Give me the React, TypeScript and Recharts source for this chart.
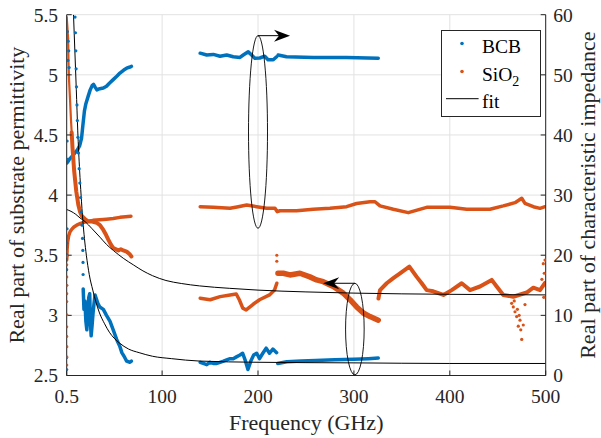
import React from 'react';
import {
  ComposedChart,
  Line,
  Scatter,
  XAxis,
  YAxis,
  CartesianGrid,
  Legend,
  ReferenceDot,
} from 'recharts';

const FONT = 'Liberation Serif, Tinos, Times New Roman, Times, Nimbus Roman, FreeSerif, Noto Serif, DejaVu Serif, serif';
const BLUE = '#0072BD';
const ORANGE = '#D95319';
const AXIS = '#262626';

// ---- ticks ----
const freqTicks = [0.5, 100, 200, 300, 400, 500];
const epsTicks = [2.5, 3, 3.5, 4, 4.5, 5, 5.5];
const zTicks = [0, 10, 20, 30, 40, 50, 60];

// ---- BCB: permittivity (left axis), [GHz, value] ----
const bcbEpsSteep = [[9.2,5.48],[9.6,5.35],[10.0,5.2],[10.3,5.05],[10.7,4.9],[11.2,4.75],[11.6,4.62],[12.2,4.48],[12.8,4.35],[13.5,4.22],[14.2,4.1],[15.0,3.98],[15.8,3.86],[16.5,3.75],[17.0,3.64],[17.3,3.54],[17.5,3.44],[17.6,3.34]];
const bcbEpsLowScatter = [[1.2,5.36],[2.0,5.28],[2.6,5.2],[1.8,5.12],[3.0,5.06],[0.9,4.45],[0.6,4.3],[0.8,3.72],[0.6,3.6],[0.7,3.5],[0.5,3.38],[0.5,2.65],[0.5,2.55]];
const bcbEpsA = [[17.7,3.22],[18.5,3.05],[19.5,3.12],[20.5,2.95],[21.5,2.88],[22.5,3.02],[23.5,3.15],[24.5,3.18],[25.2,2.95],[26,2.83],[27,2.92],[28,3.02],[29,3.1],[30,3.17],[33,3.1],[35,3.07],[38.7,3.05],[42,3.0],[45.7,2.95],[49,2.88],[52.6,2.8],[56,2.74],[58,2.69],[61,2.65],[63,2.62],[66.5,2.61],[68,2.62]];
const bcbEpsB = [[139.7,2.61],[143,2.6],[146.5,2.59],[150,2.61],[153.4,2.6],[157,2.6],[160.4,2.61],[164,2.62],[167.3,2.63],[170.9,2.64],[174.2,2.64],[177.5,2.655],[181.2,2.67],[184,2.685],[186.5,2.63],[189.5,2.55],[192.5,2.62],[195.5,2.67],[198.6,2.685],[201.6,2.64],[205,2.685],[208.5,2.727],[212,2.685],[215.5,2.72],[219.4,2.69]];
const bcbEpsC = [[220.5,2.6],[230,2.615],[245,2.62],[260,2.625],[280,2.63],[300,2.635],[315,2.64],[325.4,2.645]];

// ---- BCB: impedance (right axis) ----
const bcbZA = [[0.5,35.3],[2,35.6],[4,36.1],[6,36.4],[8,36.8],[10,37.2],[12,37.6],[14,38.2],[16,39.5],[17.5,41.8],[19,44],[20.5,45.2],[23,46.5],[25,47.5],[27,48.2],[28.5,48.4],[30,48.0],[32,47.5],[35,47.7],[38.7,47.8],[42,48.1],[45,48.6],[49,49.2],[53,49.8],[56,50.3],[60,50.8],[63,51.1],[66.5,51.3],[68,51.4]];
const bcbZB = [[139.7,53.6],[146.5,53.3],[153.4,53.4],[160.4,53.1],[167.3,53.3],[174.2,53.0],[181.2,52.9],[184.6,53.3],[189.8,53.85],[193.3,53.3],[196.7,52.75],[201.9,52.8],[207,53.1],[210.5,52.5],[215.9,52.5],[219.4,53.0]];
const bcbZC = [[221,53.3],[229.7,53.0],[257.5,52.9],[292.3,52.9],[325.4,52.75]];

// ---- SiO2: permittivity (left axis) ----
const sioEpsTop = [[0.5,5.48],[1.2,5.4],[2,5.3],[2.4,5.1],[3,4.95],[4,4.79],[5,4.62],[5.7,4.52]];
const sioEpsA = [[5.7,4.52],[6.5,4.4],[7.4,4.3],[8.3,4.2],[9.2,4.13],[10.5,4.03],[12.6,3.92],[14.5,3.86],[16,3.83],[19.6,3.8],[23,3.78],[27,3.78],[31.8,3.77],[35.2,3.75],[38.7,3.71],[41.5,3.67],[43.9,3.63],[46.5,3.59],[49.1,3.56],[54.3,3.54],[57,3.55],[59.5,3.54],[63,3.53],[66,3.51],[68,3.49]];
const sioEpsB = [[139.7,3.143],[150.1,3.13],[160.5,3.156],[170.9,3.17],[177.3,3.178],[180.5,3.13],[184.1,3.06],[187.7,3.045],[194.6,3.09],[201.6,3.13],[212,3.17],[217.2,3.21],[219.6,3.267]];
const sioEpsOutliers = [[219.6,3.5],[219.6,3.45]];
const sioEpsC = [[220.8,3.35],[226.3,3.35],[233.3,3.336],[243.7,3.35],[254.1,3.32],[261.1,3.295],[268,3.28],[278.5,3.24],[288.9,3.185],[295.9,3.13],[302.9,3.07],[309.8,3.02],[316.8,2.99],[325.4,2.96]];
const sioEpsD = [[325.6,3.14],[327.2,3.21],[334.2,3.267],[341.1,3.31],[348.1,3.35],[357.8,3.405],[365.5,3.32],[370.7,3.267],[375.9,3.21],[382.8,3.2],[393.3,3.17],[402,3.21],[412.4,3.267],[421.1,3.21],[431.5,3.24],[443.7,3.295],[448.9,3.24],[455.8,3.17],[466.2,3.155],[480.2,3.19],[487.1,3.23],[494.1,3.21],[499.3,3.27]];
const sioEpsDScatter = [[464.5,3.1],[466.2,3.07],[467.2,3.12],[468,3.03],[469.7,2.99],[470.5,3.05],[471.4,2.91],[472.3,3.0],[473.2,2.96],[474,2.88],[475,2.8],[476.6,2.92],[478.4,3.09],[497.5,3.43],[498.5,3.35],[499.3,3.46],[498,3.15],[496,3.3]];

// ---- SiO2: impedance (right axis) ----
const sioZA = [[0.5,19.2],[0.9,21],[1.5,22.2],[2.5,23.2],[4,23.9],[5.7,24.3],[8,24.7],[10.9,25.0],[15,25.3],[21,25.6],[28,25.8],[35,25.9],[42,26.0],[49,26.1],[56,26.3],[62,26.4],[67.5,26.5]];
const sioZLowScatter = [[0.5,20.6],[0.6,19.8],[0.5,18.4],[0.5,16.4],[0.6,15.0],[0.5,13.6],[0.5,12.3],[0.6,10.1],[0.5,8.1],[0.5,6.5],[0.6,4.8],[0.5,3.1],[0.5,1.75]];
const sioZB = [[139.7,28.07],[153.4,27.97],[170.8,27.8],[179.4,28.07],[188.2,28.35],[198.6,28.07],[209,27.8],[217.7,27.8],[220.1,27.25],[222.9,27.4],[240.3,27.4],[257.6,27.64],[275,27.8],[292.4,28.07],[302.8,28.6],[316.8,28.9],[322,28.9],[327.2,28.2],[341.1,27.64],[356.7,27.08],[375.9,27.97],[400.2,27.97],[417.6,27.64],[441.9,27.64],[455.8,28.2],[468,28.74],[475,29.47],[478.4,28.63],[487.1,28.07],[494.1,27.8],[499.3,28.07]];

// ---- fits (left axis) ----
const sioFit = [[0.5,3.88],[5,3.865],[10,3.84],[14.4,3.81],[19.6,3.78],[27,3.72],[35.2,3.65],[42,3.59],[49.1,3.54],[59.5,3.475],[70,3.42],[80,3.37],[90,3.33],[104,3.29],[120,3.265],[139,3.245],[170,3.225],[200,3.21],[250,3.195],[300,3.185],[400,3.175],[500,3.17]];
const bcbFit = [[7.6,5.5],[9,5.2],[10.5,4.88],[12,4.54],[14,4.2],[15.5,4.0],[17.3,3.79],[19,3.64],[21,3.5],[24,3.34],[27.7,3.21],[31,3.11],[34.7,3.02],[40,2.93],[45,2.86],[50,2.81],[55.5,2.77],[65,2.72],[76,2.69],[90,2.66],[110,2.64],[139,2.62],[200,2.61],[300,2.605],[400,2.6],[500,2.6]];

// ---- annotation anchors [GHz, permittivity] ----
const ellipseRight = [200, 4.525];
const ellipseLeft = [301, 2.886];

type P = { f: number; v: number };
const pts = (a: number[][]): P[] => a.map(([f, v]) => ({ f, v }));

const dotShape = (color: string) => (p: any) => (
  <circle cx={p.cx} cy={p.cy} r={1.6} fill={color} />
);

const EllipseArrowRight = (p: any) => {
  const { cx, cy } = p;
  const ry = 96.3;
  const top = cy - ry;
  const tip = cx + 32;
  return (
    <g>
      <ellipse cx={cx} cy={cy} rx={9.5} ry={ry} fill="none" stroke="#000" strokeWidth={0.9} />
      <line x1={cx} y1={top} x2={tip - 8} y2={top} stroke="#000" strokeWidth={1} />
      <path d={`M${tip},${top} L${tip - 16},${top - 6} L${tip - 11},${top} L${tip - 16},${top + 6} Z`} fill="#000" />
    </g>
  );
};

const EllipseArrowLeft = (p: any) => {
  const { cx, cy } = p;
  const ry = 45.8;
  const top = cy - ry;
  const tip = cx - 31.7;
  return (
    <g>
      <ellipse cx={cx} cy={cy} rx={9.3} ry={ry} fill="none" stroke="#000" strokeWidth={0.9} />
      <line x1={cx} y1={top} x2={tip + 8} y2={top} stroke="#000" strokeWidth={1} />
      <path d={`M${tip},${top} L${tip + 16},${top - 6} L${tip + 11},${top} L${tip + 16},${top + 6} Z`} fill="#000" />
    </g>
  );
};

const renderLegend = () => (
  <svg width={100} height={87} style={{ display: 'block' }}>
    <rect x={0.5} y={0.5} width={99} height={86} fill="#fff" stroke={AXIS} strokeWidth={1} />
    <circle cx={21} cy={13.5} r={1.8} fill={BLUE} />
    <text x={41} y={23} fontFamily={FONT} fontSize={19.5} fill="#000">BCB</text>
    <circle cx={21} cy={41.5} r={1.8} fill={ORANGE} />
    <text x={41} y={50.5} fontFamily={FONT} fontSize={19.5} fill="#000">
      SiO<tspan dy={5} fontSize={14}>2</tspan>
    </text>
    <line x1={5} y1={68.7} x2={37.6} y2={68.7} stroke="#000" strokeWidth={1} />
    <text x={41} y={77.5} fontFamily={FONT} fontSize={19.5} fill="#000">fit</text>
  </svg>
);

const tickStyle = { fontFamily: FONT, fontSize: 19.5, fill: AXIS };
const labelStyle = { fontFamily: FONT, fontSize: 22, fill: AXIS, textAnchor: 'middle' as const };

export default function App() {
  const band = (data: number[][], color: string, axis: string, w = 4, key = '') => (
    <Line
      key={key}
      data={pts(data)}
      dataKey="v"
      yAxisId={axis}
      type="linear"
      stroke={color}
      strokeWidth={w}
      strokeLinejoin="round"
      strokeLinecap="round"
      dot={false}
      activeDot={false}
      isAnimationActive={false}
      legendType="none"
    />
  );
  const dots = (data: number[][], color: string, axis: string, key = '') => (
    <Scatter
      key={key}
      data={pts(data)}
      dataKey="v"
      yAxisId={axis}
      fill={color}
      shape={dotShape(color)}
      isAnimationActive={false}
      legendType="none"
    />
  );

  return (
    <div style={{ position: 'absolute', left: 0, top: 0, width: 601, height: 438, background: '#fff', fontFamily: FONT }}>
      <ComposedChart width={601} height={438} margin={{ top: 14.7, right: 0, bottom: 0, left: 0 }}>
        <CartesianGrid yAxisId="left" stroke="#e2e2e2" strokeWidth={1} />
        <XAxis
          type="number"
          dataKey="f"
          domain={[0.5, 500]}
          ticks={freqTicks}
          interval={0}
          allowDataOverflow
          height={62.5}
          tickSize={-5}
          tickMargin={19}
          tick={tickStyle}
          stroke={AXIS}
          axisLine={{ stroke: AXIS }}
          tickLine={{ stroke: AXIS }}
          label={{ value: 'Frequency (GHz)', position: 'insideBottom', offset: 8.5, style: labelStyle }}
        />
        <XAxis
          xAxisId="top"
          orientation="top"
          type="number"
          dataKey="f"
          domain={[0.5, 500]}
          ticks={freqTicks}
          interval={0}
          allowDataOverflow
          height={0}
          tickSize={-5}
          tick={false}
          axisLine={{ stroke: AXIS }}
          tickLine={{ stroke: AXIS }}
        />
        <YAxis
          yAxisId="left"
          type="number"
          domain={[2.5, 5.5]}
          ticks={epsTicks}
          interval={0}
          allowDataOverflow
          width={66.7}
          tickSize={-5}
          tickMargin={13.7}
          tick={tickStyle}
          axisLine={{ stroke: AXIS }}
          tickLine={{ stroke: AXIS }}
          label={{ value: 'Real part of substrate permittivity', angle: -90, position: 'insideLeft', offset: 16.2, style: labelStyle }}
        />
        <YAxis
          yAxisId="right"
          orientation="right"
          type="number"
          domain={[0, 60]}
          ticks={zTicks}
          interval={0}
          allowDataOverflow
          width={55.3}
          tickSize={-5}
          tickMargin={12.6}
          tick={tickStyle}
          axisLine={{ stroke: AXIS }}
          tickLine={{ stroke: AXIS }}
          label={{ value: 'Real part of characteristic impedance', angle: -90, position: 'insideRight', offset: 13.5, style: labelStyle }}
        />

        {band(bcbZA, BLUE, 'right', 3.5, 'bzA')}
        {band(bcbZB, BLUE, 'right', 3.5, 'bzB')}
        {band(bcbZC, BLUE, 'right', 3.5, 'bzC')}
        {band(bcbEpsA, BLUE, 'left', 3.5, 'beA')}
        {band(bcbEpsB, BLUE, 'left', 3.5, 'beB')}
        {band(bcbEpsC, BLUE, 'left', 3.5, 'beC')}
        {dots(bcbEpsSteep, BLUE, 'left', 'beS')}
        {dots(bcbEpsLowScatter, BLUE, 'left', 'beL')}

        {band(sioZA, ORANGE, 'right', 3.5, 'szA')}
        {band(sioZB, ORANGE, 'right', 3.5, 'szB')}
        {dots(sioZLowScatter, ORANGE, 'right', 'szL')}
        {band(sioEpsTop, ORANGE, 'left', 2.2, 'seT')}
        {band(sioEpsA, ORANGE, 'left', 4, 'seA')}
        {band(sioEpsB, ORANGE, 'left', 3.5, 'seB')}
        {band(sioEpsC, ORANGE, 'left', 5.5, 'seC')}
        {band(sioEpsD, ORANGE, 'left', 4, 'seD')}
        {dots(sioEpsOutliers, ORANGE, 'left', 'seO')}
        {dots(sioEpsDScatter, ORANGE, 'left', 'seDS')}

        <Line data={pts(sioFit)} dataKey="v" yAxisId="left" type="monotone" stroke="#000" strokeWidth={1} dot={false} activeDot={false} isAnimationActive={false} legendType="none" />
        <Line data={pts(bcbFit)} dataKey="v" yAxisId="left" type="monotone" stroke="#000" strokeWidth={1} dot={false} activeDot={false} isAnimationActive={false} legendType="none" />

        <ReferenceDot yAxisId="left" x={ellipseRight[0]} y={ellipseRight[1]} shape={EllipseArrowRight} />
        <ReferenceDot yAxisId="left" x={ellipseLeft[0]} y={ellipseLeft[1]} shape={EllipseArrowLeft} />

        <Legend
          layout="vertical"
          align="center"
          verticalAlign="middle"
          content={renderLegend}
          wrapperStyle={{ left: 440.5, top: 29.8, width: 100, height: 87 }}
        />
      </ComposedChart>
    </div>
  );
}
